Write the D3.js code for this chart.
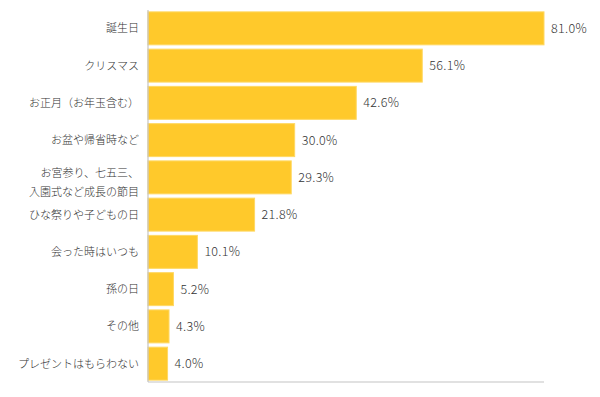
<!DOCTYPE html>
<html>
<head>
<meta charset="utf-8">
<script src="https://cdn.jsdelivr.net/npm/d3@7"></script>
<style>
  body { margin: 0; background: #fff; }
  text { font-family: "Noto Sans CJK JP", "Noto Sans", sans-serif; fill: #333; font-weight: 300; }
</style>
</head>
<body>
<div id="chart"></div>
<script>
const categories = [
    ["誕生日"],
    ["クリスマス"],
    ["お正月（お年玉含む）"],
    ["お盆や帰省時など"],
    ["お宮参り、七五三、", "入園式など成長の節目"],
    ["ひな祭りや子どもの日"],
    ["会った時はいつも"],
    ["孫の日"],
    ["その他"],
    ["プレゼントはもらわない"]
];
const values = [81.0, 56.1, 42.6, 30.0, 29.3, 21.8, 10.1, 5.2, 4.3, 4.0];

const width = 600, height = 397;
const plot = { left: 148, right: 544, top: 10, bottom: 382 };

const svg = d3.select("#chart")
    .append("svg")
    .attr("width", width)
    .attr("height", height);

const keys = categories.map((c, i) => i);

const x = d3.scaleLinear()
    .domain([0, 81])
    .range([plot.left, plot.right]);

const y = d3.scaleBand()
    .domain(keys)
    .range([plot.top, plot.bottom])
    .paddingInner(0.115)
    .paddingOuter(0.05);

// bars
svg.append("g")
    .selectAll("rect")
    .data(values)
    .join("rect")
    .attr("x", x(0))
    .attr("y", (d, i) => y(i))
    .attr("width", d => x(d) - x(0))
    .attr("height", y.bandwidth())
    .attr("fill", "#ffc92b")
    .attr("stroke", "#ffd863")
    .attr("stroke-width", 1);

// axis lines
svg.append("line")
    .attr("x1", plot.left).attr("x2", plot.left)
    .attr("y1", plot.top).attr("y2", plot.bottom)
    .attr("stroke", "#c4c4c4").attr("stroke-width", 1.2);
svg.append("line")
    .attr("x1", plot.left).attr("x2", plot.right)
    .attr("y1", plot.bottom).attr("y2", plot.bottom)
    .attr("stroke", "#c4c4c4").attr("stroke-width", 1.2);

// value labels
svg.append("g")
    .selectAll("text")
    .data(values)
    .join("text")
    .attr("x", d => x(d) + 7)
    .attr("y", (d, i) => y(i) + y.bandwidth() / 2 + 1)
    .attr("dominant-baseline", "middle")
    .attr("font-size", 12.5)
    .attr("letter-spacing", 0.3)
    .text(d => d.toFixed(1) + "%");

// category labels
const lab = svg.append("g")
    .selectAll("text")
    .data(categories)
    .join("text")
    .attr("text-anchor", "end")
    .attr("font-size", 11)
    .attr("y", (d, i) => y(i) + y.bandwidth() / 2 + 1)
    .attr("dominant-baseline", "middle");

lab.each(function(lines) {
    const t = d3.select(this);
    if (lines.length === 1) {
        t.append("tspan").attr("x", 139).text(lines[0]);
    } else {
        t.append("tspan").attr("x", 139).attr("dy", -4).text(lines[0]);
        t.append("tspan").attr("x", 139).attr("dy", 18.5).text(lines[1]);
    }
});
</script>
</body>
</html>
